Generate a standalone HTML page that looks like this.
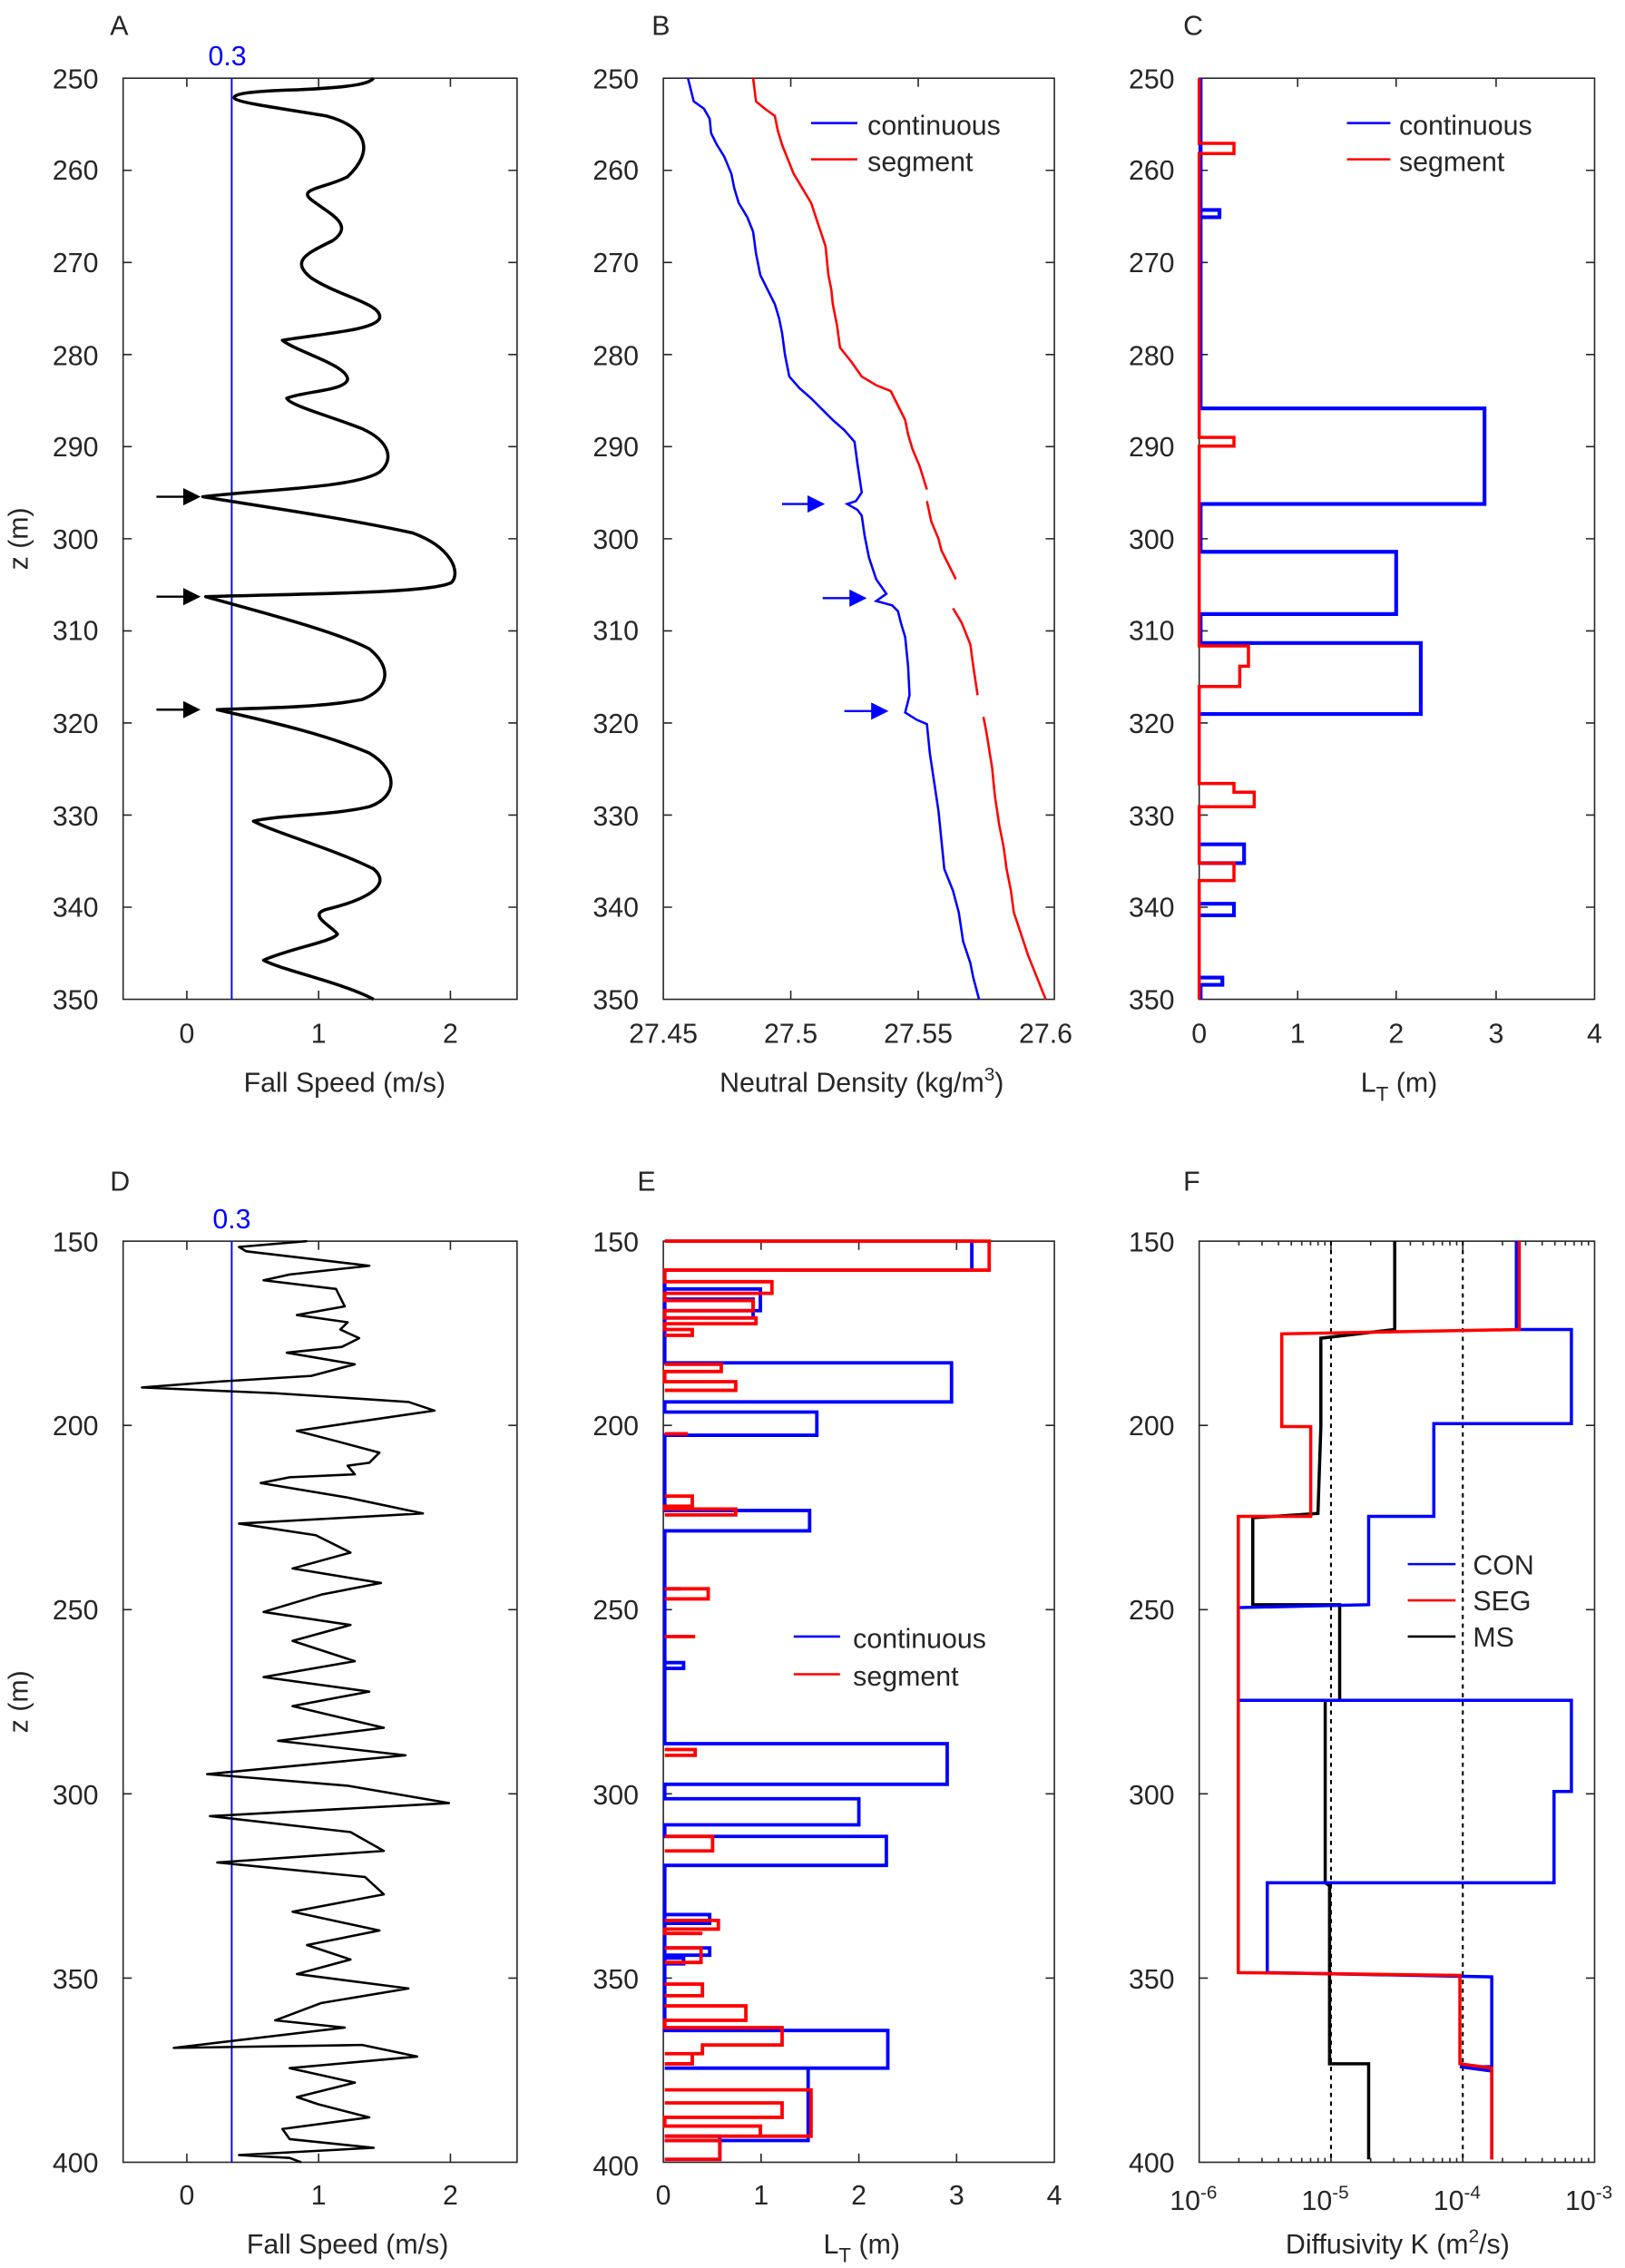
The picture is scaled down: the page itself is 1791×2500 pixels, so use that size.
<!DOCTYPE html>
<html><head><meta charset="utf-8"><style>
html,body{margin:0;padding:0;background:#fff}
svg{display:block}
text{font-family:"Liberation Sans",sans-serif;fill:#262626;font-size:19px}
.ax{fill:none;stroke:#262626;stroke-width:1}
</style></head><body>
<svg width="1791" height="2500" viewBox="0 0 1122 1566" preserveAspectRatio="none">
<defs>
<marker id="ak" markerWidth="8" markerHeight="8" refX="7" refY="4" orient="auto"><path d="M0,0 L8,4 L0,8 z" fill="#000"/></marker>
<marker id="ab" markerWidth="8" markerHeight="8" refX="7" refY="4" orient="auto"><path d="M0,0 L8,4 L0,8 z" fill="#00f"/></marker>
</defs>
<!-- Panel letters -->
<text x="76" y="24" font-size="24">A</text><text x="450" y="24" font-size="24">B</text><text x="817" y="24" font-size="24">C</text>
<text x="76" y="822" font-size="24">D</text><text x="440" y="822" font-size="24">E</text><text x="817" y="822" font-size="24">F</text>

<!-- Axes boxes -->
<rect class="ax" x="85" y="54" width="272" height="636"/>
<rect class="ax" x="458" y="54" width="270" height="636"/>
<rect class="ax" x="828" y="54" width="273" height="636"/>
<rect class="ax" x="85" y="857" width="272" height="636"/>
<rect class="ax" x="458" y="857" width="270" height="636"/>
<rect class="ax" x="828" y="857" width="273" height="636"/>

<!-- top y ticks -->
<g class="ax">
<path d="M85 117.6h6M85 181.2h6M85 244.8h6M85 308.4h6M85 372h6M85 435.6h6M85 499.2h6M85 562.8h6M85 626.4h6M357 117.6h-6M357 181.2h-6M357 244.8h-6M357 308.4h-6M357 372h-6M357 435.6h-6M357 499.2h-6M357 562.8h-6M357 626.4h-6"/>
<path d="M458 117.6h6M458 181.2h6M458 244.8h6M458 308.4h6M458 372h6M458 435.6h6M458 499.2h6M458 562.8h6M458 626.4h6M728 117.6h-6M728 181.2h-6M728 244.8h-6M728 308.4h-6M728 372h-6M728 435.6h-6M728 499.2h-6M728 562.8h-6M728 626.4h-6"/>
<path d="M828 117.6h6M828 181.2h6M828 244.8h6M828 308.4h6M828 372h6M828 435.6h6M828 499.2h6M828 562.8h6M828 626.4h6M1101 117.6h-6M1101 181.2h-6M1101 244.8h-6M1101 308.4h-6M1101 372h-6M1101 435.6h-6M1101 499.2h-6M1101 562.8h-6M1101 626.4h-6"/>
<path d="M129 690v-6M220 690v-6M311 690v-6M129 54v6M220 54v6M311 54v6"/>
<path d="M546 690v-6M634 690v-6M546 54v6M634 54v6"/>
<path d="M896 690v-6M964 690v-6M1033 690v-6M896 54v6M964 54v6M1033 54v6"/>
<!-- bottom -->
<path d="M85 984.2h6M85 1111.4h6M85 1238.6h6M85 1365.8h6M357 984.2h-6M357 1111.4h-6M357 1238.6h-6M357 1365.8h-6"/>
<path d="M458 984.2h6M458 1111.4h6M458 1238.6h6M458 1365.8h6M728 984.2h-6M728 1111.4h-6M728 1238.6h-6M728 1365.8h-6"/>
<path d="M828 984.2h6M828 1111.4h6M828 1238.6h6M828 1365.8h6M1101 984.2h-6M1101 1111.4h-6M1101 1238.6h-6M1101 1365.8h-6"/>
<path d="M129 1493v-6M220 1493v-6M311 1493v-6M129 857v6M220 857v6M311 857v6"/>
<path d="M525.5 1493v-6M593 1493v-6M660.5 1493v-6M525.5 857v6M593 857v6M660.5 857v6"/>
<path d="M919 1493v-6M1010 1493v-6M919 857v6M1010 857v6"/>
<path d="M855.4 1493v-3M871.4 1493v-3M882.8 1493v-3M891.6 1493v-3M898.8 1493v-3M904.9 1493v-3M910.1 1493v-3M914.8 1493v-3M946.4 1493v-3M962.4 1493v-3M973.8 1493v-3M982.6 1493v-3M989.8 1493v-3M995.9 1493v-3M1001.1 1493v-3M1005.8 1493v-3M1037.4 1493v-3M1053.4 1493v-3M1064.8 1493v-3M1073.6 1493v-3M1080.8 1493v-3M1086.9 1493v-3M1092.1 1493v-3M1096.8 1493v-3"/>
<path d="M855.4 857v3M871.4 857v3M882.8 857v3M891.6 857v3M898.8 857v3M904.9 857v3M910.1 857v3M914.8 857v3M946.4 857v3M962.4 857v3M973.8 857v3M982.6 857v3M989.8 857v3M995.9 857v3M1001.1 857v3M1005.8 857v3M1037.4 857v3M1053.4 857v3M1064.8 857v3M1073.6 857v3M1080.8 857v3M1086.9 857v3M1092.1 857v3M1096.8 857v3"/>
</g>

<!-- y labels top -->
<g text-anchor="end">
<text x="68" y="61">250</text><text x="68" y="124">260</text><text x="68" y="188">270</text><text x="68" y="252">280</text><text x="68" y="315">290</text><text x="68" y="379">300</text><text x="68" y="442">310</text><text x="68" y="506">320</text><text x="68" y="570">330</text><text x="68" y="633">340</text><text x="68" y="697">350</text>
<text x="441" y="61">250</text><text x="441" y="124">260</text><text x="441" y="188">270</text><text x="441" y="252">280</text><text x="441" y="315">290</text><text x="441" y="379">300</text><text x="441" y="442">310</text><text x="441" y="506">320</text><text x="441" y="570">330</text><text x="441" y="633">340</text><text x="441" y="697">350</text>
<text x="811" y="61">250</text><text x="811" y="124">260</text><text x="811" y="188">270</text><text x="811" y="252">280</text><text x="811" y="315">290</text><text x="811" y="379">300</text><text x="811" y="442">310</text><text x="811" y="506">320</text><text x="811" y="570">330</text><text x="811" y="633">340</text><text x="811" y="697">350</text>
<text x="68" y="864">150</text><text x="68" y="991">200</text><text x="68" y="1118">250</text><text x="68" y="1246">300</text><text x="68" y="1373">350</text><text x="68" y="1500">400</text>
<text x="441" y="864">150</text><text x="441" y="991">200</text><text x="441" y="1118">250</text><text x="441" y="1246">300</text><text x="441" y="1373">350</text><text x="441" y="1502">400</text>
<text x="811" y="864">150</text><text x="811" y="991">200</text><text x="811" y="1118">250</text><text x="811" y="1246">300</text><text x="811" y="1373">350</text><text x="811" y="1500">400</text>
</g>
<!-- x labels -->
<g text-anchor="middle">
<text x="129" y="720">0</text><text x="220" y="720">1</text><text x="311" y="720">2</text>
<text x="458" y="720">27.45</text><text x="546" y="720">27.5</text><text x="634" y="720">27.55</text><text x="722" y="720">27.6</text>
<text x="828" y="720">0</text><text x="896" y="720">1</text><text x="964" y="720">2</text><text x="1033" y="720">3</text><text x="1101" y="720">4</text>
<text x="129" y="1522">0</text><text x="220" y="1522">1</text><text x="311" y="1522">2</text>
<text x="458" y="1522">0</text><text x="525.5" y="1522">1</text><text x="593" y="1522">2</text><text x="660.5" y="1522">3</text><text x="728" y="1522">4</text>
<text x="824" y="1526">10<tspan font-size="13" dy="-8">-6</tspan></text><text x="915" y="1526">10<tspan font-size="13" dy="-8">-5</tspan></text><text x="1006" y="1526">10<tspan font-size="13" dy="-8">-4</tspan></text><text x="1097" y="1526">10<tspan font-size="13" dy="-8">-3</tspan></text>
<text x="238" y="754" font-size="20">Fall Speed (m/s)</text>
<text x="595" y="754" font-size="20">Neutral Density (kg/m<tspan font-size="13" dy="-8">3</tspan><tspan dy="8">)</tspan></text>
<text x="966" y="754" font-size="20">L<tspan font-size="14" dy="6">T</tspan><tspan dy="-6"> (m)</tspan></text>
<text x="240" y="1556" font-size="20">Fall Speed (m/s)</text>
<text x="595" y="1556" font-size="20">L<tspan font-size="14" dy="6">T</tspan><tspan dy="-6"> (m)</tspan></text>
<text x="965" y="1556" font-size="20">Diffusivity K (m<tspan font-size="13" dy="-8">2</tspan><tspan dy="8">/s)</tspan></text>
</g>
<text transform="translate(19,372) rotate(-90)" text-anchor="middle" font-size="20">z (m)</text>
<text transform="translate(19,1175) rotate(-90)" text-anchor="middle" font-size="20">z (m)</text>

<!-- Panel A -->
<line x1="160" y1="54" x2="160" y2="690" stroke="#00f" stroke-width="1.2"/>
<text x="157" y="45" fill="#00f" style="fill:#00f" text-anchor="middle">0.3</text>
<path fill="none" stroke="#000" stroke-width="2.2" stroke-linejoin="round" d="M258,54 C255,57 250,60 205,62 C170,63 160,65 162,68 C165,71 195,75 225,80 C255,88 258,105 240,122 C225,130 205,130 215,138 C228,148 245,155 230,166 C212,175 200,180 215,192 C235,205 265,210 262,220 C258,228 225,230 195,235 C205,243 240,252 240,262 C238,270 210,270 198,275 C200,280 230,288 250,296 C270,305 272,318 262,326 C245,337 180,338 140,343 C170,348 240,358 285,368 C312,378 318,395 312,402 C300,410 200,410 142,412 C170,420 230,435 255,448 C270,460 270,475 250,483 C220,489 170,489 150,490 C175,496 220,505 255,520 C275,532 275,550 255,557 C230,563 190,563 175,567 C190,575 230,586 258,600 C272,612 250,622 225,628 C212,632 230,640 233,645 C230,650 200,655 182,663 C195,670 235,678 258,690"/>
<g stroke="#000" stroke-width="1.5" marker-end="url(#ak)"><line x1="108" y1="343" x2="137" y2="343"/><line x1="108" y1="412" x2="137" y2="412"/><line x1="108" y1="490" x2="137" y2="490"/></g>

<!-- Panel B -->
<polyline fill="none" stroke="#00f" stroke-width="1.6" points="475,54 477,62 479,70 486,75 490,82 491,92 495,100 500,108 505,120 507,130 510,140 516,150 520,160 522,175 525,190 530,200 535,210 538,220 540,230 542,245 545,260 552,268 560,275 568,283 575,290 583,297 590,305 592,320 595,340 591,346 585,348 592,352 595,356 597,370 600,385 605,400 612,410 605,415 616,418 620,422 622,430 625,440 627,460 628,480 625,492 633,497 640,500 642,520 645,540 648,560 650,580 652,600 658,615 662,630 665,650 670,665 672,675 676,690"/>
<g fill="none" stroke="#f00" stroke-width="1.6">
<polyline points="520,54 521,62 522,70 528,75 535,80 537,90 540,100 544,110 548,120 554,130 560,140 565,155 570,170 571,180 572,190 574,200 575,210 578,225 580,240 588,250 595,260 605,266 615,270 620,280 625,290 627,300 630,310 635,322 640,338"/>
<polyline points="640,346 643,360 648,372 650,380 655,390 660,400"/>
<polyline points="658,420 664,430 670,445 672,460 675,480"/>
<polyline points="679,495 681,505 685,530 687,550 690,570 693,585 695,600 698,615 700,630 705,645 710,660 716,675 722,690"/>
</g>
<g stroke="#00f" stroke-width="1.5" marker-end="url(#ab)"><line x1="540" y1="348" x2="568" y2="348"/><line x1="568" y1="413" x2="597" y2="413"/><line x1="583" y1="491" x2="612" y2="491"/></g>
<line x1="560" y1="85" x2="592" y2="85" stroke="#00f" stroke-width="1.6"/><text x="599" y="93" font-size="22">continuous</text>
<line x1="560" y1="110" x2="592" y2="110" stroke="#f00" stroke-width="1.6"/><text x="599" y="118" font-size="22">segment</text>

<!-- Panel C -->
<path fill="none" stroke="#00f" stroke-width="2.6" d="M829,54 V282 H1025 V348 H829 V381 H964 V424 H829 V444 H981 V493 H829 M829,145 H842 V150 H829 M829,583 H859 V596 H829 M829,624 H852 V632 H829 M829,675 H844 V680 H829 V690"/>
<path fill="none" stroke="#f00" stroke-width="2.2" d="M828,54 V99 H852 V106 H828 V302 H852 V308 H828 V446 H862 V460 H856 V474 H828 V541 H852 V547 H866 V557 H828 V596 H852 V608 H828 V690"/>
<line x1="930" y1="85" x2="960" y2="85" stroke="#00f" stroke-width="1.6"/><text x="966" y="93" font-size="22">continuous</text>
<line x1="930" y1="110" x2="960" y2="110" stroke="#f00" stroke-width="1.6"/><text x="966" y="118" font-size="22">segment</text>

<!-- Panel D -->
<line x1="160" y1="857" x2="160" y2="1493" stroke="#00f" stroke-width="1.2"/>
<text x="160" y="848" style="fill:#00f" text-anchor="middle">0.3</text>
<polyline fill="none" stroke="#000" stroke-width="1.6" stroke-linejoin="round" points="212,857 165,861 170,864 255,874 200,880 182,884 232,890 238,902 205,908 240,913 235,918 248,924 236,930 198,934 245,942 215,950 150,954 98,958 190,962 282,968 300,974 245,982 205,988 232,995 262,1003 255,1010 240,1012 245,1018 200,1020 180,1024 240,1034 292,1045 165,1052 218,1060 242,1072 202,1083 263,1093 222,1101 182,1113 242,1122 202,1133 245,1147 182,1158 255,1168 202,1178 265,1193 192,1202 280,1212 143,1225 240,1233 310,1245 145,1254 242,1265 265,1278 150,1286 252,1296 265,1308 202,1320 262,1333 212,1343 242,1353 205,1363 282,1373 222,1383 190,1395 238,1400 120,1414 250,1412 288,1420 200,1428 245,1438 205,1448 220,1453 255,1462 195,1470 200,1477 258,1483 165,1488 200,1490 208,1493"/>

<!-- Panel E -->
<path fill="none" stroke="#00f" stroke-width="2.4" d="M459,857 H671 V877 H459 V941 H657 V968 H459 V975 H564 V991 H459 V1043 H559 V1057 H459 V1204 H654 V1232 H459 V1242 H593 V1260 H459 V1268 H612 V1288 H459 V1402 H613 V1428 H459 V1428 H558 V1478 H459 M459,1475 H497 V1491 H459 M459,1352 H472 V1356 H459 M459,1345 H490 V1350 H459 M459,1322 H490 V1328 H459 M459,1148 H472 V1152 H459 M459,1097 H470 M459,890 H525 V905 H459 M459,897 H520 V910 H459"/>
<path fill="none" stroke="#f00" stroke-width="2.4" d="M459,857 H683 V877 H459 V885 H533 V893 H459 V898 H520 V905 H459 V910 H522 V914 H459 V918 H478 V922 H459 M459,942 H498 V947 H459 V954 H508 V960 H459 M459,990 H475 M459,1033 H478 V1040 H459 V1042 H508 V1046 H459 M459,1097 H489 V1104 H459 M459,1130 H480 M459,1208 H480 V1212 H459 M459,1268 H492 V1278 H459 M459,1326 H496 V1332 H459 V1335 H485 M459,1345 H484 V1355 H459 M459,1370 H485 V1378 H459 M459,1385 H515 V1395 H459 V1400 H540 V1412 H485 V1418 H459 M459,1418 H478 V1425 H459 M459,1443 H560 V1475 H459 M459,1452 H540 V1462 H459 V1468 H525 V1475 H459 M459,1478 H497 V1491 H459"/>
<line x1="548" y1="1130" x2="580" y2="1130" stroke="#00f" stroke-width="1.6"/><text x="589" y="1138" font-size="22">continuous</text>
<line x1="548" y1="1156" x2="580" y2="1156" stroke="#f00" stroke-width="1.6"/><text x="589" y="1164" font-size="22">segment</text>

<!-- Panel F -->
<g stroke="#000" stroke-width="1.3" stroke-dasharray="3,3"><line x1="919" y1="857" x2="919" y2="1493"/><line x1="1010" y1="857" x2="1010" y2="1493"/></g>
<path fill="none" stroke="#000" stroke-width="2.2" d="M963,857 V918 L912,924 V985 L910,1045 L865,1048 V1108 H925 V1174 H915 V1300 L918,1302 V1425 H945 V1491"/>
<path fill="none" stroke="#00f" stroke-width="2.2" d="M1047,857 V918 H1085 V983 H990 V1047 H945 V1108 L855,1110 V1174 H1085 V1237 H1073 V1300 H875 V1362 L1030,1365 V1427 H1008 L1030,1430 V1491"/>
<path fill="none" stroke="#f00" stroke-width="2.2" d="M1049,857 V918 L885,921 V985 H905 V1047 H855 V1362 L1008,1364 V1425 L1030,1428 V1491"/>
<line x1="972" y1="1080" x2="1005" y2="1080" stroke="#00f" stroke-width="1.6"/><text x="1017" y="1087">CON</text>
<line x1="972" y1="1105" x2="1005" y2="1105" stroke="#f00" stroke-width="1.6"/><text x="1017" y="1112">SEG</text>
<line x1="972" y1="1130" x2="1005" y2="1130" stroke="#000" stroke-width="1.6"/><text x="1017" y="1137">MS</text>
</svg>
</body></html>
